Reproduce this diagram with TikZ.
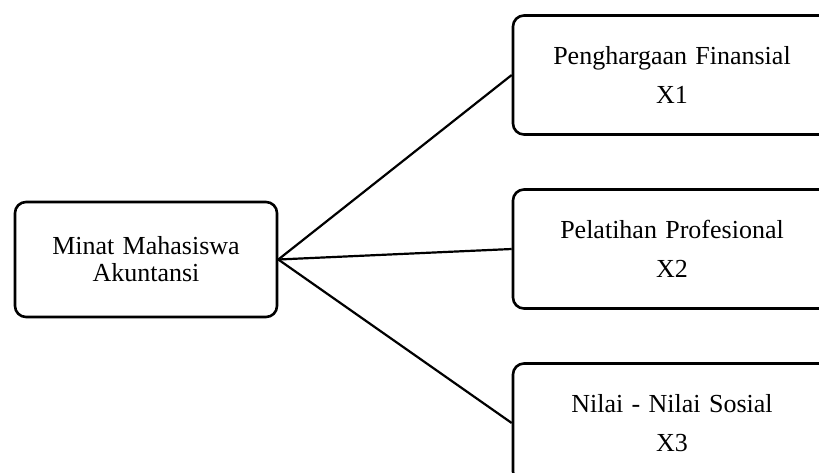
\documentclass[tikz,border=0pt]{standalone}
\usepackage{fontspec}
\setmainfont{Liberation Serif}
\newcommand\widespacing{\spaceskip=0.32em\relax}
\begin{document}
\begin{tikzpicture}[x=1pt,y=-1pt,
  boxstyle/.style={draw=black, line width=2.6pt, rounded corners=11pt, inner sep=0pt, align=center, execute at begin node=\widespacing},
  leftbox/.style={boxstyle, minimum width=262pt, minimum height=115pt, font=\fontsize{26}{27}\selectfont},
  rightbox/.style={boxstyle, minimum width=318pt, minimum height=119pt, font=\fontsize{26}{39}\selectfont},
  link/.style={draw=black, line width=2.2pt}]
\useasboundingbox (0,0) rectangle (819,472);
\clip (0,0) rectangle (819,472);
\node[leftbox] (L) at (146,259.5) {Minat Mahasiswa\\Akuntansi};
\node[rightbox] (T) at (672,75) {Penghargaan Finansial\\X1};
\node[rightbox] (M) at (672,249) {Pelatihan Profesional\\X2};
\node[rightbox] (B) at (672,423) {Nilai - Nilai Sosial\\X3};
\draw[link] (L.east) -- (T.west);
\draw[link] (L.east) -- (M.west);
\draw[link] (L.east) -- (B.west);
\end{tikzpicture}
\end{document}
